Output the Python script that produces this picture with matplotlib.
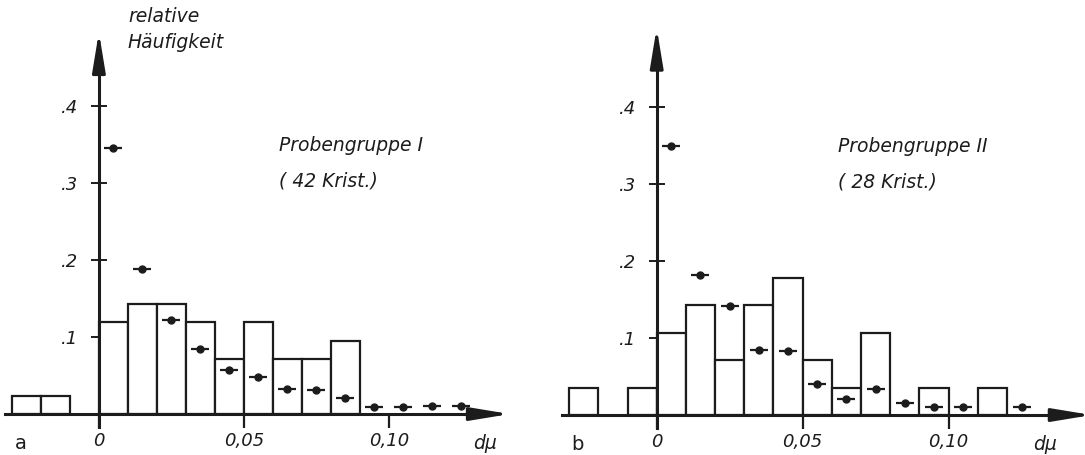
import matplotlib
matplotlib.use('agg')
import matplotlib.pyplot as plt

# bin left edges (width 0.01) and counts per bin
bins_a = [-0.03, -0.02, 0.00, 0.01, 0.02, 0.03, 0.04, 0.05, 0.06, 0.07, 0.08]
counts_a = [1, 1, 5, 6, 6, 5, 3, 5, 3, 3, 4]
n_a = 42
bins_b = [-0.03, -0.01, 0.00, 0.01, 0.02, 0.03, 0.04, 0.05, 0.06, 0.07, 0.09, 0.11]
counts_b = [1, 1, 3, 4, 2, 4, 5, 2, 1, 3, 1, 1]
n_b = 28

# dots (bin centres)
dots_x_a = [0.005, 0.015, 0.025, 0.035, 0.045, 0.055, 0.065, 0.075, 0.085, 0.095, 0.105, 0.115, 0.125]
dots_y_a = [0.345, 0.189, 0.122, 0.084, 0.057, 0.048, 0.032, 0.031, 0.021, 0.009, 0.009, 0.011, 0.011]
dots_x_b = [0.005, 0.015, 0.025, 0.035, 0.045, 0.055, 0.065, 0.075, 0.085, 0.095, 0.105, 0.125]
dots_y_b = [0.350, 0.182, 0.142, 0.084, 0.083, 0.040, 0.021, 0.034, 0.015, 0.011, 0.010, 0.011]

y_ticks = [0.1, 0.2, 0.3, 0.4]
y_labels = ['.1', '.2', '.3', '.4']
x_ticks = [0.0, 0.05, 0.10]
x_labels = ['0', '0,05', '0,10']

ink = '#1c1c1c'
fs = 13.5


def draw_panel(ax, bins, counts, n, dx, dy, letter, title, note, ytip, xtip):
    heights = [c / n for c in counts]
    ax.bar(bins, heights, width=0.01, align='edge', facecolor='white',
           edgecolor=ink, linewidth=1.6, zorder=2)
    ax.plot(dx, dy, '_', ms=13, mew=1.6, color=ink, zorder=3)
    ax.plot(dx, dy, 'o', ms=5, color=ink, zorder=3)

    for s in ['top', 'right']:
        ax.spines[s].set_visible(False)
    ax.spines['left'].set_position(('data', 0))
    ax.spines['bottom'].set_position(('data', 0))
    ax.spines['left'].set_bounds(-0.017, ytip - 0.03)
    ax.spines['bottom'].set_bounds(-0.0325, xtip - 0.008)
    for s in ['left', 'bottom']:
        ax.spines[s].set_linewidth(2.2)
        ax.spines[s].set_color(ink)
        ax.spines[s].set_zorder(4)

    ax.set_yticks(y_ticks)
    ax.set_yticklabels(y_labels, fontstyle='italic', fontsize=fs - 0.5)
    ax.set_xticks(x_ticks)
    ax.set_xticklabels(x_labels, fontstyle='italic', fontsize=fs - 0.5)
    ax.tick_params(axis='y', direction='inout', length=12, width=1.4, pad=9, colors=ink)
    ax.tick_params(axis='x', direction='out', length=10, width=1.6, pad=3, colors=ink)

    # arrow heads
    ax.annotate('', xy=(0, ytip), xytext=(0, ytip - 0.04), annotation_clip=False,
                arrowprops=dict(arrowstyle='-|>,head_length=1.7,head_width=0.28',
                                mutation_scale=14, color=ink, lw=2.2, shrinkA=0, shrinkB=0))
    ax.annotate('', xy=(xtip, 0), xytext=(xtip - 0.01, 0), annotation_clip=False,
                arrowprops=dict(arrowstyle='-|>,head_length=1.7,head_width=0.28',
                                mutation_scale=14, color=ink, lw=2.2, shrinkA=0, shrinkB=0))

    ax.text(-0.027, -0.038, letter, fontsize=fs + 0.5, color=ink, ha='center', va='center')
    ax.text(0.133, -0.038, 'd\u03bc', fontsize=fs, fontstyle='italic', color=ink,
            ha='center', va='center')
    ax.text(0.062, 0.349, title, fontsize=fs, fontstyle='italic', color=ink, va='center')
    ax.text(0.062, 0.303, note, fontsize=fs, fontstyle='italic', color=ink, va='center')


fig = plt.figure(figsize=(10.85, 4.55), dpi=100)
ax1 = fig.add_axes([0, 0, 540 / 1085, 1])
ax2 = fig.add_axes([540 / 1085, 0, 545 / 1085, 1])

draw_panel(ax1, bins_a, counts_a, n_a, dots_x_a, dots_y_a, 'a',
           'Probengruppe I', '( 42 Krist.)', 0.496, 0.1417)
ax1.set_xlim(-0.0341, 0.1521)
ax1.set_ylim(-0.0532, 0.5377)
ax1.text(0.010, 0.516, 'relative', fontsize=fs, fontstyle='italic', color=ink, va='center')
ax1.text(0.010, 0.482, 'Häufigkeit', fontsize=fs, fontstyle='italic', color=ink, va='center')

draw_panel(ax2, bins_b, counts_b, n_b, dots_x_b, dots_y_b, 'b',
           'Probengruppe II', '( 28 Krist.)', 0.503, 0.149)
ax2.set_xlim(-0.03997, 0.1467)
ax2.set_ylim(-0.0519, 0.539)

fig.savefig('out.png', dpi=100, facecolor='white')
